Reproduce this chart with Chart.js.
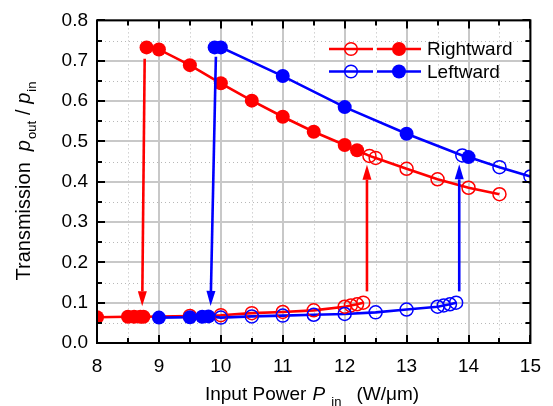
<!DOCTYPE html>
<html>
<head>
<meta charset="utf-8">
<script src="https://cdn.jsdelivr.net/npm/chart.js@4.4.1/dist/chart.umd.min.js"></script>
<style>
  html, body { margin: 0; padding: 0; background: #fff; }
  .chart-container { width: 553px; height: 406px; }
</style>
</head>
<body>
<div class="chart-container"><canvas id="chart"></canvas></div>
<script>
// Rightward sweep (red): open = increasing power, filled = decreasing power
const rightOpenLowX = [9.5, 10, 10.5, 11, 11.5, 12, 12.1, 12.2, 12.3];
const rightOpenLowY = [0.067, 0.069, 0.074, 0.077, 0.081, 0.090, 0.093, 0.096, 0.100];
const rightOpenHighX = [12.4, 12.5, 13, 13.5, 14, 14.5];
const rightOpenHighY = [0.464, 0.459, 0.432, 0.406, 0.385, 0.369];
const rightFilledHighX = [8.8, 9, 9.5, 10, 10.5, 11, 11.5, 12, 12.2];
const rightFilledHighY = [0.733, 0.728, 0.689, 0.644, 0.601, 0.561, 0.524, 0.491, 0.478];
const rightFilledLowX = [8, 8.5, 8.6, 8.7, 8.75];
const rightFilledLowY = [0.064, 0.065, 0.065, 0.065, 0.065];

// Leftward sweep (blue)
const leftOpenLowX = [10, 10.5, 11, 11.5, 12, 12.5, 13, 13.5, 13.6, 13.7, 13.8];
const leftOpenLowY = [0.063, 0.066, 0.068, 0.070, 0.072, 0.076, 0.083, 0.090, 0.093, 0.096, 0.100];
const leftOpenHighX = [13.9, 14.5, 15];
const leftOpenHighY = [0.465, 0.436, 0.413];
const leftFilledHighX = [9.9, 10, 11, 12, 13, 14];
const leftFilledHighY = [0.733, 0.733, 0.662, 0.585, 0.519, 0.461];
const leftFilledLowX = [9, 9.5, 9.7, 9.8];
const leftFilledLowY = [0.063, 0.064, 0.065, 0.066];

// Switching jumps: red down, blue down, red up, blue up
const jumpFromX = [8.77, 9.92, 12.36, 13.85];
const jumpFromY = [0.705, 0.710, 0.128, 0.128];
const jumpToX = [8.73, 9.835, 12.36, 13.85];
const jumpToY = [0.091, 0.092, 0.442, 0.443];

const xTickValues = [8, 9, 10, 11, 12, 13, 14, 15];
const yTickValues = [0, 0.1, 0.2, 0.3, 0.4, 0.5, 0.6, 0.7, 0.8];

const RED = "#ff0000";
const BLUE = "#0000ff";
const FONT = "'Liberation Sans', Arial, sans-serif";

const toPoints = (xs, ys) => xs.map((x, i) => ({ x, y: ys[i] }));
const branch = (...parts) => parts.flat().sort((a, b) => a.x - b.x);

const lineSet = (pts, color) => ({
  data: pts, showLine: true, borderColor: color, borderWidth: 2.6,
  pointRadius: 0, pointHoverRadius: 0, order: 2,
});
const markerSet = (pts, color, filled) => ({
  data: pts, showLine: false, pointRadius: filled ? 7 : 6.5,
  pointBorderWidth: filled ? 0 : 1.5, pointBorderColor: color,
  pointBackgroundColor: filled ? color : "rgba(0,0,0,0)",
  pointHoverRadius: 0, order: 1,
});

const rOL = toPoints(rightOpenLowX, rightOpenLowY);
const rOH = toPoints(rightOpenHighX, rightOpenHighY);
const rFH = toPoints(rightFilledHighX, rightFilledHighY);
const rFL = toPoints(rightFilledLowX, rightFilledLowY);
const lOL = toPoints(leftOpenLowX, leftOpenLowY);
const lOH = toPoints(leftOpenHighX, leftOpenHighY);
const lFH = toPoints(leftFilledHighX, leftFilledHighY);
const lFL = toPoints(leftFilledLowX, leftFilledLowY);

// grid, minor dotted grid, inward ticks, frame
const framePlugin = {
  id: "frame",
  beforeDatasetsDraw(chart) {
    const { ctx, chartArea: a, scales: { x, y } } = chart;
    ctx.save();
    ctx.lineWidth = 1;
    ctx.strokeStyle = "#b8b8b8";
    ctx.setLineDash([1, 3]);
    for (let v = 8.5; v < 15; v += 1) {
      const px = Math.round(x.getPixelForValue(v)) + 0.5;
      ctx.beginPath(); ctx.moveTo(px, a.top); ctx.lineTo(px, a.bottom); ctx.stroke();
    }
    for (let v = 0.05; v < 0.8; v += 0.1) {
      const py = Math.round(y.getPixelForValue(v)) + 0.5;
      ctx.beginPath(); ctx.moveTo(a.left, py); ctx.lineTo(a.right, py); ctx.stroke();
    }
    ctx.setLineDash([]);
    ctx.lineWidth = 2;
    ctx.strokeStyle = "#c8c8c8";
    xTickValues.forEach(v => {
      const px = Math.round(x.getPixelForValue(v));
      ctx.beginPath(); ctx.moveTo(px, a.top); ctx.lineTo(px, a.bottom); ctx.stroke();
    });
    yTickValues.forEach(v => {
      const py = Math.round(y.getPixelForValue(v));
      ctx.beginPath(); ctx.moveTo(a.left, py); ctx.lineTo(a.right, py); ctx.stroke();
    });
    ctx.restore();
  },
  afterDatasetsDraw(chart) {
    const { ctx, chartArea: a, scales: { x, y } } = chart;
    ctx.save();
    // jump arrows
    const colors = [RED, BLUE, RED, BLUE];
    jumpFromX.forEach((fx, i) => {
      const x0 = x.getPixelForValue(fx), y0 = y.getPixelForValue(jumpFromY[i]);
      const x1 = x.getPixelForValue(jumpToX[i]), y1 = y.getPixelForValue(jumpToY[i]);
      const ang = Math.atan2(y1 - y0, x1 - x0);
      const head = 15, half = 4.5;
      ctx.strokeStyle = ctx.fillStyle = colors[i];
      ctx.lineWidth = 2.6;
      ctx.beginPath();
      ctx.moveTo(x0, y0);
      ctx.lineTo(x1 - Math.cos(ang) * head, y1 - Math.sin(ang) * head);
      ctx.stroke();
      const bx = x1 - Math.cos(ang) * head, by = y1 - Math.sin(ang) * head;
      ctx.beginPath();
      ctx.moveTo(x1, y1);
      ctx.lineTo(bx + Math.sin(ang) * half, by - Math.cos(ang) * half);
      ctx.lineTo(bx - Math.sin(ang) * half, by + Math.cos(ang) * half);
      ctx.closePath();
      ctx.fill();
    });
    // inward ticks on all four sides
    ctx.strokeStyle = "#000";
    ctx.lineWidth = 2;
    const tick = (x0, y0, x1, y1) => { ctx.beginPath(); ctx.moveTo(x0, y0); ctx.lineTo(x1, y1); ctx.stroke(); };
    for (let v = 8; v <= 15.001; v += 0.5) {
      const px = Math.round(x.getPixelForValue(v));
      const len = Math.abs(v - Math.round(v)) < 1e-6 ? 8 : 5;
      tick(px, a.bottom, px, a.bottom - len);
      tick(px, a.top, px, a.top + len);
    }
    for (let v = 0; v <= 0.8001; v += 0.05) {
      const py = Math.round(y.getPixelForValue(v));
      const len = Math.abs(v * 10 - Math.round(v * 10)) < 1e-6 ? 8 : 5;
      tick(a.left, py, a.left + len, py);
      tick(a.right, py, a.right - len, py);
    }
    ctx.lineWidth = 2;
    ctx.strokeRect(a.left, a.top, a.right - a.left, a.bottom - a.top);

    // legend
    const rows = [["Rightward", RED], ["Leftward", BLUE]];
    rows.forEach(([label, color], i) => {
      const ly = 49 + i * 22.5;
      ctx.strokeStyle = ctx.fillStyle = color;
      ctx.lineWidth = 2.6;
      tick(329, ly, 373, ly);
      tick(377, ly, 421, ly);
      ctx.lineWidth = 1.5;
      ctx.beginPath(); ctx.arc(351, ly, 6.3, 0, Math.PI * 2); ctx.stroke();
      ctx.beginPath(); ctx.arc(399, ly, 7, 0, Math.PI * 2); ctx.fill();
      ctx.fillStyle = "#000";
      ctx.font = "19px " + FONT;
      ctx.textBaseline = "middle";
      ctx.textAlign = "left";
      ctx.fillText(label, 427, ly + 1);
    });
    ctx.restore();
  },
  afterDraw(chart) {
    const { ctx } = chart;
    ctx.save();
    ctx.fillStyle = "#000";
    ctx.textBaseline = "alphabetic";
    ctx.textAlign = "left";
    // run of [text, font, baseline shift, trailing gap]
    const drawRun = (parts, cx, cy) => {
      let total = 0;
      parts.forEach(p => { ctx.font = p[1]; total += ctx.measureText(p[0]).width + p[3]; });
      let px = cx - total / 2;
      parts.forEach(p => {
        ctx.font = p[1];
        ctx.fillText(p[0], px, cy + p[2]);
        px += ctx.measureText(p[0]).width + p[3];
      });
    };
    drawRun([
      ["Input Power ", "19px " + FONT, 0, 1],
      ["P", "italic 19px " + FONT, 0, 6],
      ["in", "13px " + FONT, 6, 15],
      ["(W/\u03bcm)", "19px " + FONT, 0, 0],
    ], 312, 400);
    ctx.translate(30, 181);
    ctx.rotate(-Math.PI / 2);
    drawRun([
      ["Transmission  ", "20px " + FONT, 0, 0],
      ["p", "italic 20px " + FONT, 0, 1],
      ["out", "13px " + FONT, 6, 6],
      ["/ ", "20px " + FONT, 0, 0],
      ["p", "italic 20px " + FONT, 0, 1],
      ["in", "13px " + FONT, 6, 0],
    ], 0, 0);
    ctx.restore();
  },
};

const ctx = document.getElementById("chart").getContext("2d");
new Chart(ctx, {
  type: "scatter",
  data: {
    datasets: [
      markerSet(lFL, BLUE, true),
      markerSet(lFH, BLUE, true),
      markerSet(lOL, BLUE, false),
      markerSet(lOH, BLUE, false),
      lineSet(branch(lFL, lOL), BLUE),
      lineSet(branch(lFH, lOH), BLUE),
      markerSet(rFL, RED, true),
      markerSet(rFH, RED, true),
      markerSet(rOL, RED, false),
      markerSet(rOH, RED, false),
      lineSet(branch(rFL, rOL), RED),
      lineSet(branch(rFH, rOH), RED),
    ],
  },
  options: {
    responsive: true,
    maintainAspectRatio: false,
    animation: false,
    events: [],
    layout: { padding: { top: 19, right: 11, left: 0, bottom: 0 } },
    plugins: { legend: { display: false }, tooltip: { enabled: false } },
    scales: {
      x: {
        type: "linear", min: 8, max: 15,
        afterBuildTicks: s => { s.ticks = xTickValues.map(v => ({ value: v })); },
        afterFit: s => { s.height = 63; },
        grid: { display: false, drawTicks: false },
        border: { display: false },
        ticks: { color: "#000", padding: 12, font: { family: FONT, size: 19 }, callback: v => String(v) },
      },
      y: {
        type: "linear", min: 0, max: 0.8,
        afterBuildTicks: s => { s.ticks = yTickValues.map(v => ({ value: v })); },
        afterFit: s => { s.width = 97; },
        grid: { display: false, drawTicks: false },
        border: { display: false },
        ticks: { color: "#000", padding: 9, font: { family: FONT, size: 19 }, callback: v => Number(v).toFixed(1) },
      },
    },
  },
  plugins: [framePlugin],
});
</script>
</body>
</html>
